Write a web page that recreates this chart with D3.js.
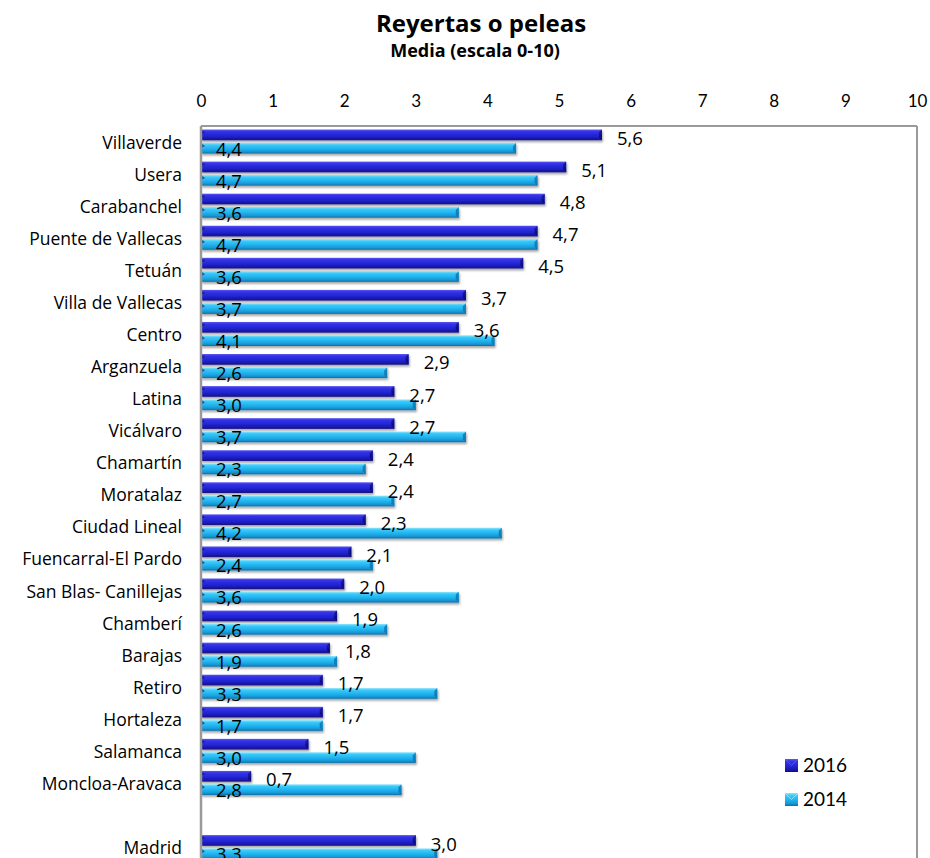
<!DOCTYPE html>
<html>
<head>
<meta charset="utf-8">
<script src="https://cdn.jsdelivr.net/npm/d3@7"></script>
<style>
  html, body { margin: 0; padding: 0; background: #fff; }
  svg { display: block; font-family: Lato, "Open Sans", sans-serif; }
</style>
</head>
<body>
<svg id="chart" width="930" height="858"></svg>
<script>
const categories = ["Villaverde","Usera","Carabanchel","Puente de Vallecas","Tetuán","Villa de Vallecas","Centro","Arganzuela","Latina","Vicálvaro","Chamartín","Moratalaz","Ciudad Lineal","Fuencarral-El Pardo","San Blas- Canillejas","Chamberí","Barajas","Retiro","Hortaleza","Salamanca","Moncloa-Aravaca","","Madrid"];
const values2016 = [5.6,5.1,4.8,4.7,4.5,3.7,3.6,2.9,2.7,2.7,2.4,2.4,2.3,2.1,2.0,1.9,1.8,1.7,1.7,1.5,0.7,null,3.0];
const values2014 = [4.4,4.7,3.6,4.7,3.6,3.7,4.1,2.6,3.0,3.7,2.3,2.7,4.2,2.4,3.6,2.6,1.9,3.3,1.7,3.0,2.8,null,3.3];
const seriesNames = ["2016","2014"];
const tickValues = [0,1,2,3,4,5,6,7,8,9,10];
const title = "Reyertas o peleas";
const subtitle = "Media (escala 0-10)";

(function () {
const svg = d3.select("#chart");
const pLeft = 201, pRight = 917, pTop = 126, bandH = 32.07;
const labelFont = "'Open Sans', Lato, sans-serif";

const x = d3.scaleLinear().domain([0, 10]).range([pLeft, pRight]);
const y = d3.scaleBand().domain(d3.range(categories.length))
  .range([pTop, pTop + bandH * categories.length]).padding(0);
const inner = d3.scaleBand().domain(seriesNames).range([0, y.bandwidth()])
  .paddingInner(0.2).paddingOuter(0.3).align(0.44);

const defs = svg.append("defs");
const grad1 = defs.append("linearGradient").attr("id","g2016").attr("x1",0).attr("x2",0).attr("y1",0).attr("y2",1);
[[0,"#5a5af0"],[0.18,"#3434e6"],[0.55,"#2424d8"],[0.8,"#1a1ab0"],[1,"#10107a"]].forEach(([o,c]) => grad1.append("stop").attr("offset",o).attr("stop-color",c));
const grad2 = defs.append("linearGradient").attr("id","g2014").attr("x1",0).attr("x2",0).attr("y1",0).attr("y2",1);
[[0,"#8fe6ff"],[0.2,"#3cc8f8"],[0.55,"#1eb2ee"],[0.8,"#1798d6"],[1,"#0c6fa8"]].forEach(([o,c]) => grad2.append("stop").attr("offset",o).attr("stop-color",c));
const shadow = defs.append("filter").attr("id","shadow").attr("x","-5%").attr("y","-50%").attr("width","110%").attr("height","220%");
shadow.append("feGaussianBlur").attr("in","SourceAlpha").attr("stdDeviation",1.2).attr("result","b");
shadow.append("feOffset").attr("in","b").attr("dx",1).attr("dy",2).attr("result","o");
shadow.append("feComponentTransfer").attr("in","o").attr("result","s").append("feFuncA").attr("type","linear").attr("slope",0.35);
const m = shadow.append("feMerge");
m.append("feMergeNode").attr("in","s");
m.append("feMergeNode").attr("in","SourceGraphic");

// Title
svg.append("text").attr("x", 481).attr("y", 32).attr("text-anchor","middle")
  .attr("font-family", labelFont)
  .attr("font-size", 24).attr("font-weight","bold").attr("fill","#000").text(title);
svg.append("text").attr("x", 475).attr("y", 57).attr("text-anchor","middle")
  .attr("font-family", labelFont)
  .attr("font-size", 18).attr("font-weight","bold").attr("fill","#000").text(subtitle);

// Top axis tick labels
const axis = d3.axisTop(x).tickValues(tickValues).tickSize(0).tickPadding(0).tickFormat(d3.format("d"));
const ag = svg.append("g").attr("transform", `translate(0, 107)`).call(axis);
ag.select(".domain").remove();
ag.selectAll("text").attr("font-size", 17).attr("font-family","Lato, sans-serif").attr("fill","#000").attr("dy", 0);

// Plot border (top, right)
svg.append("line").attr("x1", pLeft).attr("x2", pRight).attr("y1", pTop).attr("y2", pTop)
  .attr("stroke", "#9a9a9a").attr("stroke-width", 2);
svg.append("line").attr("x1", pRight).attr("x2", pRight).attr("y1", pTop).attr("y2", 858)
  .attr("stroke", "#9a9a9a").attr("stroke-width", 2);

// Category labels
svg.append("g").selectAll("text").data(categories).join("text")
  .attr("x", 182).attr("y", (d,i) => y(i) + y.bandwidth()/2 + 6.5)
  .attr("font-family", labelFont)
  .attr("text-anchor","end").attr("font-size", 17.5).attr("fill","#000").text(d => d);

// Bars
const series = [{name:"2016", vals: values2016, fill:"url(#g2016)", cap:"#0e0e80"},
                {name:"2014", vals: values2014, fill:"url(#g2014)", cap:"#0d78b4"}];
series.forEach(s => {
  const g = svg.append("g");
  const data = s.vals.map((v,i) => ({v, i})).filter(d => d.v != null);
  const bars = g.selectAll("g").data(data).join("g").attr("filter","url(#shadow)");
  bars.append("rect")
    .attr("x", x(0)).attr("y", d => y(d.i) + inner(s.name))
    .attr("width", d => x(d.v) - x(0)).attr("height", inner.bandwidth())
    .attr("fill", s.fill);
  bars.append("path").attr("d", d => {
    const x1 = x(d.v), y0 = y(d.i) + inner(s.name), h = inner.bandwidth();
    return `M${x1-3},${y0+3}L${x1},${y0}L${x1},${y0+h}L${x1-3},${y0+h-3}Z`;
  }).attr("fill", s.cap).attr("opacity", 0.85);
  bars.append("path").attr("d", d => {
    const x0 = x(0), y0 = y(d.i) + inner(s.name);
    return `M${x0},${y0}L${x0+4},${y0+3}L${x0},${y0+5}Z`;
  }).attr("fill", "#0a0a60").attr("opacity", 0.6);
});

// Left axis line
svg.append("line").attr("x1", pLeft).attr("x2", pLeft).attr("y1", pTop).attr("y2", 858)
  .attr("stroke", "#9a9a9a").attr("stroke-width", 2.5);

// Value labels
svg.append("g").selectAll("text").data(values2016.map((v,i)=>({v,i})).filter(d=>d.v!=null)).join("text")
  .attr("x", d => x(d.v) + 15).attr("y", d => y(d.i) + 19)
  .attr("font-family", labelFont)
  .attr("font-size", 18.5).attr("fill","#000")
  .text(d => d3.format(".1f")(d.v).replace(".", ","));
svg.append("g").selectAll("text").data(values2014.map((v,i)=>({v,i})).filter(d=>d.v!=null)).join("text")
  .attr("x", x(0) + 15).attr("y", d => y(d.i) + 29.5)
  .attr("font-family", labelFont)
  .attr("font-size", 18.5).attr("fill","#000")
  .text(d => d3.format(".1f")(d.v).replace(".", ","));

// Legend
const legend = svg.append("g");
series.forEach((s, k) => {
  const ly = 759 + k * 34;
  legend.append("rect").attr("x", 785).attr("y", ly).attr("width", 13).attr("height", 13).attr("fill", s.fill);
  legend.append("path").attr("d", `M785,${ly}L791.5,${ly+6.5}L798,${ly}`).attr("fill","none")
    .attr("stroke", k === 0 ? "#5a5af0" : "#9feaff").attr("stroke-width", 1).attr("opacity",0.8);
  legend.append("text").attr("x", 803).attr("y", ly + 13).attr("font-size", 19).attr("fill","#000").text(s.name);
});
})();
</script>
</body>
</html>
